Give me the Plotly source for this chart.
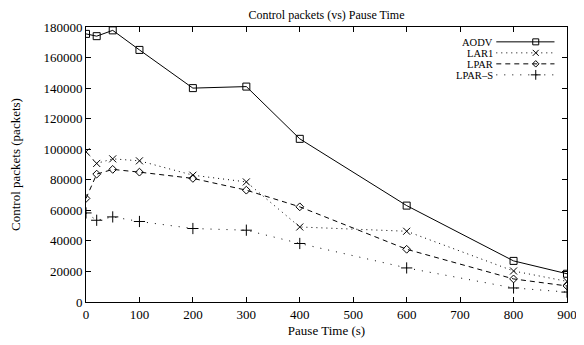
import plotly.graph_objects as go

pause_time = [0, 20, 50, 100, 200, 300, 400, 600, 800, 900]
aodv = [175500, 174000, 177800, 165000, 140000, 141000, 106800, 63100, 26900, 18500]
lar1 = [98300, 90700, 93700, 92400, 83000, 78600, 49100, 46300, 20300, 13500]
lpar = [67800, 83700, 86800, 85000, 80900, 73200, 62300, 34500, 15100, 10500]
lpar_s = [58300, 53500, 55700, 52700, 48100, 47000, 38300, 22300, 9200, 6500]

series_names = ["AODV", "LAR1", "LPAR", "LPAR\u2013S"]
series_vals = [aodv, lar1, lpar, lpar_s]
styles = [
    dict(dash="solid", symbol="square-open", size=7),
    dict(dash="1px,4px", symbol="x-thin", size=7),
    dict(dash="5px,4px", symbol="diamond-open", size=6),
    dict(dash="1px,7px,1px,7px", symbol="cross-thin", size=8),
]

FONT = "Liberation Serif"
fig = go.Figure()
for name, vals, st in zip(series_names, series_vals, styles):
    fig.add_trace(go.Scatter(
        x=pause_time, y=vals, mode="lines+markers", name=name,
        line=dict(color="black", width=1, dash=st["dash"]),
        marker=dict(symbol=st["symbol"], size=st["size"], color="black",
                    line=dict(color="black", width=1)),
        showlegend=False,
    ))

# custom gnuplot-style legend (text left, sample right), in an overlay axis
leg_y = [0.946, 0.906, 0.866, 0.826]
for name, st, yy in zip(series_names, styles, leg_y):
    fig.add_trace(go.Scatter(
        x=[0.853, 0.935, 0.974], y=[yy, yy, yy], mode="lines",
        line=dict(color="black", width=1, dash=st["dash"]),
        xaxis="x2", yaxis="y2", showlegend=False, hoverinfo="skip"))
    fig.add_trace(go.Scatter(
        x=[0.935], y=[yy], mode="markers",
        marker=dict(symbol=st["symbol"], size=st["size"] - 1, color="black",
                    line=dict(color="black", width=1)),
        xaxis="x2", yaxis="y2", showlegend=False, hoverinfo="skip"))
    fig.add_annotation(x=0.849, y=yy, xref="x2", yref="y2", text=name,
                       showarrow=False, xanchor="right", yanchor="middle",
                       height=10, borderpad=0, valign="middle",
                       font=dict(family=FONT, size=10.5, color="black"))

fig.update_layout(
    width=584, height=345,
    margin=dict(l=78, r=24.5, t=19, b=51.3, autoexpand=False),
    paper_bgcolor="white", plot_bgcolor="white",
    font=dict(family=FONT, size=13, color="black"),
    title=dict(text="Control packets (vs) Pause Time", x=0.5, xref="paper",
               y=1 - 7 / 345, yanchor="middle",
               font=dict(family=FONT, size=12, color="black")),
    xaxis=dict(range=[0, 900], tickvals=list(range(0, 1000, 100)),
               showgrid=False, zeroline=False, showline=True, linecolor="black",
               linewidth=1, mirror="ticks", ticks="inside", ticklen=5,
               tickcolor="black", automargin=False,
               tickfont=dict(family=FONT, size=13),
               title=dict(text="Pause Time (s)", standoff=5,
                          font=dict(family=FONT, size=13))),
    yaxis=dict(range=[0, 180000], tickvals=list(range(0, 200000, 20000)),
               tickformat="d",
               showgrid=False, zeroline=False, showline=True, linecolor="black",
               linewidth=1, mirror="ticks", ticks="inside", ticklen=5,
               tickcolor="black", automargin=False,
               tickfont=dict(family=FONT, size=13),
               title=dict(text="Control packets (packets)", standoff=26,
                          font=dict(family=FONT, size=13))),
    xaxis2=dict(range=[0, 1], overlaying="x", visible=False, fixedrange=True),
    yaxis2=dict(range=[0, 1], overlaying="y", visible=False, fixedrange=True),
)

fig.write_html("out.html")
